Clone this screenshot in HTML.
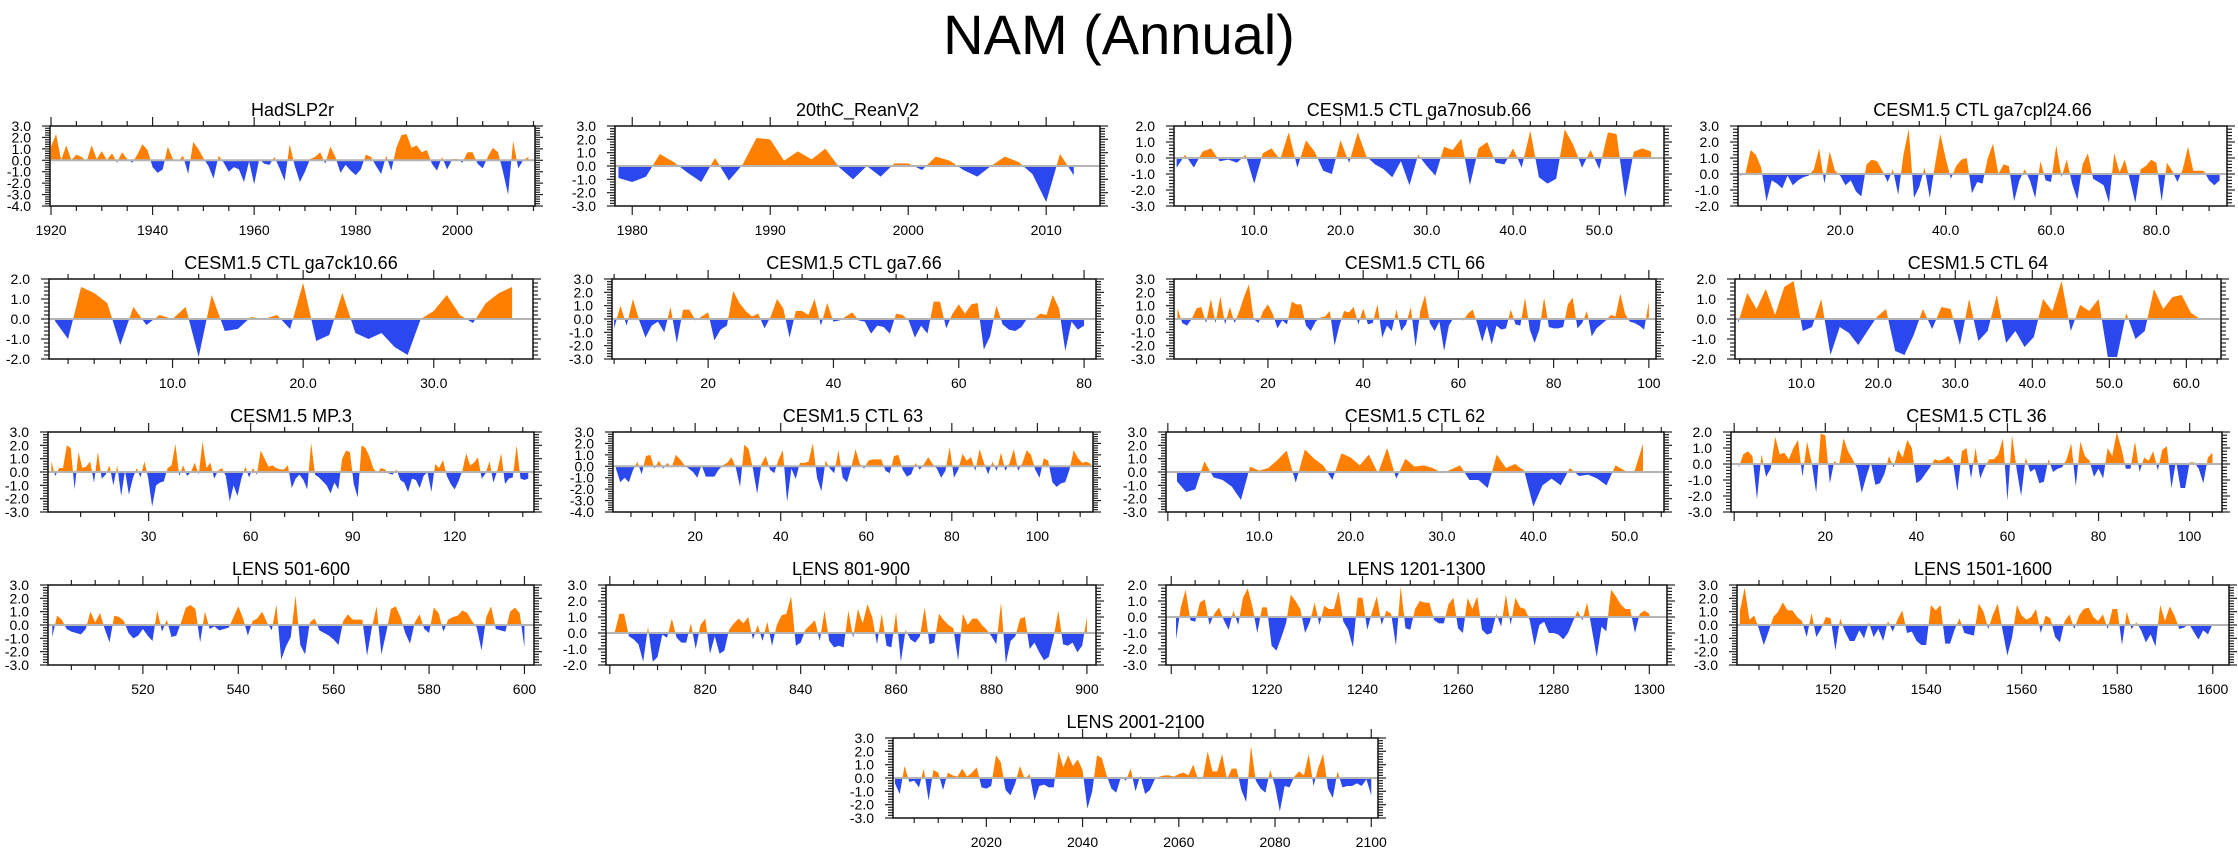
<!DOCTYPE html>
<html>
<head>
<meta charset="utf-8">
<style>
  html, body { margin: 0; padding: 0; background: #fff; }
  svg { display: block; font-family: "Liberation Sans", Arial, sans-serif; }
</style>
</head>
<body>
<svg id="chart" xmlns="http://www.w3.org/2000/svg" width="2238" height="856" viewBox="0 0 2238 856">
  <rect x="0" y="0" width="2238" height="856" fill="#ffffff"></rect>
  <text x="1119" y="54" font-size="56" text-anchor="middle" fill="#000">NAM (Annual)</text>
</svg>
<script>
// ---------- data ----------
const titles = ["HadSLP2r","20thC_ReanV2","CESM1.5 CTL ga7nosub.66","CESM1.5 CTL ga7cpl24.66",
"CESM1.5 CTL ga7ck10.66","CESM1.5 CTL ga7.66","CESM1.5 CTL 66","CESM1.5 CTL 64",
"CESM1.5 MP.3","CESM1.5 CTL 63","CESM1.5 CTL 62","CESM1.5 CTL 36",
"LENS 501-600","LENS 801-900","LENS 1201-1300","LENS 1501-1600","LENS 2001-2100"];

const startX = [1920,1979,1,1,1,5,1,1.8,1.4,1.5,1,1,501,801,1201,1501,2001];
const stepX  = [1,1,1,1,1,1,1,1.2,1.14,1,1,1,1,1,1,1,1];
const xMin = [1919.8,1978.75,0.7,0.6,0.54,4.66,0.27,1.4,0.42,0.8,-0.2,-0.7,500.1,799.2,1198.9,1500.4,2000.6];
const xMax = [2015.3,2013.9,57.5,93.4,37.6,81.9,101.5,64.5,143.3,113,54.3,107.1,602,901.9,1303.7,1603.4,2101.4];
const yMin = [-4,-3,-3,-2,-2,-3,-3,-2,-3,-4,-3,-3,-3,-2,-3,-3,-3];
const yMax = [3,3,2,3,2,3,3,2,3,3,3,2,3,3,2,3,3];
const xMajor = [20,10,10,20,10,20,20,10,30,20,10,20,20,20,20,20,20];
const xMinor = [5,2,2,5,2,5,5,2,10,5,2,5,5,5,5,5,5];
const xDecimals = [0,0,1,1,1,0,0,1,0,0,1,0,0,0,0,0,0];

const vals1 = [1.2,2.3,0.0,1.3,0.0,0.5,0.3,-0.1,1.3,0.1,0.8,0.0,0.6,-0.2,0.7,0.1,-0.2,0.5,1.4,0.9,-0.6,-1.1,-0.8,1.2,0.1,-0.1,0.4,-1.2,1.6,1.0,0.2,-0.5,-1.6,0.4,-0.2,-1.0,-0.6,-0.8,-1.9,-0.1,-2.1,0.1,-0.3,-0.4,0.3,-0.7,-1.8,1.4,-0.5,-1.9,-1.0,0.1,0.3,0.7,-0.3,1.2,0.3,-1.1,-0.4,-0.9,-1.3,-0.8,0.5,0.3,-0.5,-1.2,0.4,-0.9,1.1,2.2,2.3,1.1,1.3,0.7,0.9,-0.3,-0.9,0.3,-0.8,0.1,0.1,-0.2,0.7,0.7,-0.3,-0.7,0.3,1.1,0.7,-1.0,-3.0,1.7,-0.7,0.0,0.3];
const vals2 = [-0.9,-1.2,-0.8,0.9,0.3,-0.5,-1.2,0.6,-1.1,0.1,2.1,2.0,0.4,1.1,0.5,1.3,-0.1,-1.0,0.0,-0.8,0.2,0.2,-0.3,0.7,0.4,-0.3,-0.8,0.0,0.7,0.3,-0.6,-2.7,0.9,-0.7];
const vals3 = [-0.6,0.2,-0.6,0.4,0.6,-0.2,-0.1,-0.3,0.2,-1.6,0.3,0.6,-0.1,1.6,-0.6,1.1,0.4,-0.8,-1.0,1.1,-0.3,1.6,0.1,-0.4,-0.7,-1.2,-0.2,-1.7,0.2,-0.5,-1.1,0.7,0.5,1.2,-1.7,0.6,1.0,-0.3,-0.4,0.6,-0.6,1.7,-1.2,-1.6,-1.3,1.8,0.8,-0.6,0.5,-0.7,1.6,1.5,-2.5,0.4,0.6,0.4];
const vals4 = [-0.1,0.0,1.5,1.2,0.4,-1.7,-0.4,-0.6,-0.9,-0.1,-0.7,-0.4,-0.2,-0.1,0.3,1.6,-0.6,1.4,0.2,-0.1,-0.7,-0.4,-1.1,-1.4,0.6,0.9,0.8,0.2,-0.5,0.3,-1.3,1.2,2.8,-1.5,-0.8,0.4,-1.5,0.6,2.5,1.0,-0.3,0.5,0.9,1.0,-1.2,-0.5,-0.6,1.0,1.9,0.0,0.6,0.5,-1.7,-0.4,0.3,-0.4,-1.5,0.8,-0.4,-0.5,1.8,-0.2,0.9,-0.6,-1.6,0.6,1.3,-0.3,-0.5,-0.7,-1.8,1.3,0.1,0.9,-0.4,-1.8,0.3,0.5,0.9,0.7,-1.7,0.7,0.2,-0.5,0.3,1.7,0.2,0.2,0.2,-0.4,-0.7,-0.4];
const vals5 = [-0.1,-1.0,1.6,1.3,0.8,-1.3,0.6,-0.3,0.2,0.0,0.6,-1.9,1.2,-0.6,-0.5,0.1,0.0,0.2,-0.5,1.8,-1.1,-0.8,1.3,-0.7,-1.0,-0.7,-1.4,-1.8,0.0,0.4,1.2,0.2,-0.2,0.8,1.3,1.6];
const vals6 = [-0.7,1.0,-0.5,1.5,-0.1,-1.4,-0.5,-0.2,-1.0,0.9,-1.8,0.7,0.7,-0.1,0.2,0.5,-1.6,-0.8,-0.5,2.1,1.2,0.6,0.2,0.4,-0.7,0.2,1.5,0.8,-1.4,0.6,0.6,0.3,1.5,-0.5,1.2,-0.2,-0.1,0.2,0.5,-0.1,-0.2,-1.1,-0.5,-0.6,-1.1,0.4,0.3,-0.1,-1.4,-0.5,-1.1,1.3,1.3,-0.7,0.4,1.1,0.4,1.1,1.2,-2.3,-1.3,1.0,-0.4,-0.8,-0.9,-0.6,0.1,0.0,0.4,0.3,1.8,0.8,-2.4,-0.2,-0.8,-0.5];
const vals7 = [0.8,-0.3,-0.5,0.0,0.8,0.9,-0.3,1.5,-0.3,1.7,-0.4,0.9,-0.3,0.6,1.7,2.6,0.0,-0.3,0.6,1.1,0.4,-0.7,-0.1,-0.4,1.3,1.1,1.1,-0.5,-0.9,-0.2,0.1,0.2,0.6,-2.0,-0.5,0.6,0.5,0.9,-0.4,0.8,-0.4,-0.3,1.1,-1.4,-0.5,-0.9,0.7,-0.9,-0.4,0.9,-2.1,0.6,1.8,-0.3,-0.9,-0.2,-2.4,-0.5,0.1,0.0,-0.1,0.4,0.7,-0.4,-1.7,-0.5,-1.9,-0.5,-0.8,-0.7,0.7,-0.4,-0.5,1.6,-0.8,-1.8,-0.8,1.6,-0.6,-0.7,-0.7,-0.6,1.1,1.6,-0.7,-0.3,0.6,-1.3,-0.7,-0.4,-0.1,0.3,0.2,1.9,0.4,-0.2,-0.3,-0.5,-0.8,1.3];
const vals8 = [-0.2,1.3,0.5,1.5,0.2,1.6,1.9,-0.6,-0.4,1.0,-1.8,-0.4,-0.7,-1.3,-0.6,0.1,0.5,-1.6,-1.8,-0.8,0.5,-0.5,0.6,0.5,-1.3,1.0,-1.1,-0.6,1.2,-1.2,-0.6,-1.4,-0.9,1.0,0.4,1.9,-0.6,0.7,0.4,1.0,-1.9,-1.9,0.3,-1.0,-0.6,1.5,0.5,1.1,1.2,0.3,0.0];
const vals9 = [0.8,-0.3,0.3,0.3,2.0,1.8,-1.3,1.5,0.3,0.4,0.8,-0.8,1.5,-0.5,-0.2,0.5,-1.0,0.5,-1.8,0.1,-1.7,-0.5,0.3,-0.4,0.8,-0.5,-2.6,-1.0,-0.8,-0.7,0.3,0.5,2.1,-0.3,0.5,-0.3,0.0,0.7,-0.2,2.3,0.3,0.7,-0.5,0.1,0.3,-0.3,-2.2,-1.0,-1.8,-0.5,0.4,-0.4,0.3,-0.2,1.6,1.0,0.4,0.5,0.3,0.2,0.2,0.5,-1.2,-0.5,-0.2,-0.6,-1.3,2.2,-0.2,-0.4,-0.7,-1.0,-1.6,-0.8,-1.3,1.0,1.6,1.5,-0.9,-1.9,2.0,1.8,1.2,0.3,-0.1,0.3,0.2,-0.1,-0.2,0.2,-0.6,-0.8,-1.5,-0.5,-0.6,-1.2,-0.3,0.0,-1.5,0.6,0.3,0.9,-0.3,-0.9,-1.3,-0.7,0.1,1.4,0.5,0.7,1.1,-0.5,-0.1,0.8,-0.8,0.1,1.4,-0.9,-0.5,-0.4,2.0,-0.5,-0.6,-0.5];
const vals10 = [-0.2,-1.4,-1.0,-1.4,-0.3,0.4,-0.7,0.9,1.0,-0.2,0.5,-0.2,0.3,-0.1,1.0,0.6,0.1,-0.2,-0.5,-1.0,0.1,-0.9,-0.9,-0.9,-0.3,0.1,0.3,0.8,-0.1,-1.8,1.9,1.5,-0.2,-2.4,0.2,0.9,-0.3,-0.6,0.6,1.4,-3.1,-0.2,-1.1,0.3,0.3,0.4,2.0,-1.0,-2.2,0.5,-0.2,-0.6,1.4,-1.0,-1.4,-0.1,1.5,0.2,-0.2,0.5,0.6,0.6,0.6,-0.4,-0.6,0.9,1.0,-0.3,-0.9,-0.7,0.3,-0.3,0.2,0.8,0.2,-0.2,-1.0,-0.4,1.7,-1.0,-0.3,1.1,0.5,0.8,-0.4,1.5,0.3,-0.7,0.4,-0.4,1.2,-0.4,0.3,1.5,-0.4,0.3,1.4,1.0,-0.3,-1.0,0.7,0.5,-1.4,-1.8,-1.5,-1.4,-0.3,1.4,0.7,0.3,0.4,0.2];
const vals11 = [-0.7,-1.5,-1.3,0.8,-0.4,-0.6,-1.1,-2.1,0.4,0.1,0.3,0.9,1.6,-0.8,1.7,1.0,0.5,-0.6,1.4,1.1,0.5,1.3,-0.1,1.8,-0.5,1.0,0.4,0.5,0.3,-0.1,0.2,0.5,-0.6,-0.6,-1.2,1.3,0.3,0.6,0.1,-2.6,-1.0,-0.5,-1.0,0.3,-0.3,-0.2,-0.5,-1.0,0.5,0.1,-0.1,2.1];
const vals12 = [-0.2,0.6,0.8,0.5,-2.2,0.6,-0.8,-0.3,1.7,0.6,0.7,0.3,1.0,1.5,-0.8,1.4,0.1,-1.8,1.9,1.8,-1.2,0.2,-0.1,1.6,0.8,0.3,-0.3,-1.8,-0.8,0.1,-1.3,-1.2,-0.6,0.5,-0.2,0.9,0.4,1.5,1.0,-1.2,-1.0,-0.6,-0.2,0.3,0.2,0.3,0.5,0.2,-1.7,0.8,1.0,-0.9,1.0,-0.9,-0.2,0.3,0.3,0.6,1.6,-2.3,1.8,-0.3,-2.0,0.4,-0.5,-0.3,-1.2,-1.1,0.3,-0.5,-0.3,-0.2,0.3,1.3,-1.4,1.4,0.5,0.2,-0.8,-0.3,-0.9,1.0,0.5,2.0,1.0,-0.3,-0.3,1.4,-0.5,0.4,0.2,0.8,-0.4,0.9,1.1,-1.5,0.2,-1.5,-1.5,0.1,0.1,-0.3,-1.2,0.4,0.7];
const vals13 = [-0.9,0.7,0.4,-0.3,-0.5,-0.6,-0.7,-0.3,1.0,0.2,0.9,-0.3,-1.3,0.7,0.6,0.3,-0.6,-1.0,-0.8,-0.3,-0.8,-1.2,1.1,-0.5,0.4,-0.9,-0.8,0.2,1.3,1.5,1.2,-1.3,1.0,-0.3,-0.1,-0.4,-0.3,-0.2,0.6,1.4,0.5,-0.8,0.3,0.5,1.0,0.2,-0.4,1.5,-2.6,-1.6,-0.9,2.2,-1.5,-2.2,0.2,0.5,-0.4,-0.6,-0.8,-1.1,-1.5,0.3,0.8,0.4,0.4,0.4,-2.3,-0.2,1.4,-2.2,-0.6,1.2,1.4,0.6,-0.6,-1.4,0.2,0.8,-0.3,-0.6,1.3,0.9,-0.5,0.4,0.6,0.7,1.1,0.9,0.3,-0.2,-1.9,0.6,1.4,-0.3,-0.4,-0.5,1.0,1.3,0.9,-1.7];
const vals14 = [0.0,1.2,1.2,-0.2,-0.4,-0.7,-1.8,0.4,-1.8,-1.5,-0.1,-0.3,0.9,-0.3,-0.6,-0.6,0.6,-1.0,0.5,0.9,-1.3,-0.2,-1.3,-1.1,0.2,0.6,0.9,0.6,1.0,-0.4,0.5,-0.5,0.7,-0.8,0.5,1.1,1.2,2.3,-0.8,-0.6,0.2,0.5,0.8,-0.5,1.4,-0.5,-0.9,-0.8,-0.9,1.4,-0.3,1.5,0.6,1.8,1.0,-0.7,1.2,-0.8,-0.9,1.3,-1.8,0.2,-0.4,-0.6,-0.2,1.6,-0.7,-0.6,1.2,0.8,0.5,0.3,-1.7,1.2,0.5,0.9,0.9,0.5,0.2,-0.2,-0.7,1.9,-1.9,-0.5,-0.2,0.9,1.0,-1.0,-0.6,-1.2,-1.7,-1.5,-0.3,1.4,-0.7,-0.8,-0.6,-1.2,-0.8,1.0];
const vals15 = [-1.4,0.6,1.7,-0.2,-0.3,0.9,1.1,-0.5,0.2,0.6,-0.2,-0.8,0.4,-0.5,1.2,1.8,0.6,-1.0,0.6,0.6,-1.8,-2.1,-1.3,-0.4,1.4,1.0,0.5,-1.0,-0.3,0.9,-0.5,0.7,0.5,0.5,1.6,-0.3,-0.8,-1.9,1.2,1.2,-0.8,0.3,1.3,-0.5,0.4,0.2,-1.8,1.9,-0.7,-0.8,0.5,1.0,0.9,0.9,-0.2,-0.4,-0.4,0.8,1.2,-0.7,-1.0,1.2,0.5,1.3,-0.8,-1.1,-1.0,0.2,-0.6,1.4,-0.5,1.2,0.6,0.5,-0.2,-1.8,-0.5,-0.3,-1.0,-1.0,-1.1,-1.4,-1.0,-0.3,0.4,-0.2,0.9,-0.8,-2.5,-0.6,-0.9,1.7,1.3,0.8,0.5,0.5,-1.0,0.2,0.4,0.2];
const vals16 = [1.0,2.8,0.4,0.7,-0.3,-1.5,-0.5,0.6,1.0,1.7,1.1,1.1,0.6,0.3,-0.9,0.9,-0.9,-0.3,0.6,0.5,-1.9,0.5,-0.5,-1.2,-1.2,-0.4,-1.0,0.2,-0.9,-0.3,-1.2,0.3,-0.5,0.4,1.1,-0.6,-0.5,-1.2,-1.5,-1.5,1.5,1.1,1.5,-1.4,-1.4,-0.3,0.5,-0.6,-0.7,-0.8,1.6,1.0,-0.3,0.8,1.6,-0.4,-2.3,-0.9,1.5,0.7,0.4,0.6,1.2,-0.6,0.7,0.5,-0.9,-1.3,0.3,0.8,-0.3,0.7,1.2,1.3,0.6,0.3,0.8,-0.3,1.2,1.2,-1.5,1.0,-0.3,0.2,-0.4,-1.3,-0.7,-1.6,1.5,0.3,1.4,0.7,-0.3,-0.2,0.1,-0.5,-1.1,-0.4,-0.7,0.1];
const vals17 = [-0.4,-1.2,0.9,-0.3,-0.2,-0.7,0.7,-1.7,0.6,0.4,-0.9,0.4,0.2,0.1,0.7,0.1,0.4,0.8,-0.7,-0.8,-0.6,1.7,1.2,-0.9,-1.3,-0.4,0.9,-0.1,0.3,-1.7,-0.6,-0.5,-0.7,-0.7,2.0,0.8,1.7,0.9,1.4,0.6,-2.3,-1.0,1.7,1.5,0.2,-0.8,-1.1,0.1,-0.2,0.7,-1.0,0.2,-1.2,-0.9,-0.1,0.1,0.2,0.2,0.1,0.3,0.4,0.2,1.0,-0.1,0.0,2.0,0.5,0.5,1.8,-0.1,0.7,0.7,-0.9,-1.8,2.4,-0.2,-0.8,-1.1,0.6,-0.6,-2.5,-0.6,-0.7,0.1,0.5,0.2,1.8,-0.6,0.8,1.8,-0.8,-1.5,0.5,-0.7,-0.6,-0.6,-0.4,-0.6,-0.1,-1.3];

const seriesValues = [vals1,vals2,vals3,vals4,vals5,vals6,vals7,vals8,vals9,vals10,vals11,vals12,vals13,vals14,vals15,vals16,vals17];

// ---------- layout (pixel frames, not data) ----------
const frameLayout = [
  [50,126,535],[615,126,1100],[1174,126,1664],[1738,126,2227],
  [49,279,533],[612,279,1096],[1174,279,1656],[1735,279,2221],
  [48,432,534],[613,432,1093],[1166,432,1664],[1731,432,2222],
  [48,585,534],[606,585,1096],[1166,585,1667],[1737,585,2229],
  [893,738,1378]
];
const FRAME_H = 80;
const ORANGE = '#ff8000';
const BLUE = '#2b47ee';

const svg = document.getElementById('chart');
const NS = 'http://www.w3.org/2000/svg';
function mk(tag, attrs, parent) {
  const e = document.createElementNS(NS, tag);
  for (const k in attrs) e.setAttribute(k, attrs[k]);
  (parent || svg).appendChild(e);
  return e;
}
const defs = mk('defs', {});

function slug(s) { return s.toLowerCase().replace(/[^a-z0-9]+/g, '-').replace(/^-|-$/g, ''); }

function drawPanel(i) {
  const L = frameLayout[i][0], T = frameLayout[i][1], R = frameLayout[i][2], B = T + FRAME_H;
  const x0 = xMin[i], x1 = xMax[i], y0 = yMin[i], y1 = yMax[i];
  const sx = v => L + (v - x0) / (x1 - x0) * (R - L);
  const sy = v => T + (y1 - v) / (y1 - y0) * (B - T);
  const name = slug(titles[i]);

  const g = mk('g', {});
  
  

  const t = mk('text', {x: (L + R) / 2, y: T - 10, 'font-size': 18, 'text-anchor': 'middle', fill: '#000'}, g);
  t.textContent = titles[i];
  
  

  const cpA = mk('clipPath', {id: 'ca' + i}, defs);
  mk('rect', {x: L, y: T, width: R - L, height: sy(0) - T}, cpA);
  const cpB = mk('clipPath', {id: 'cb' + i}, defs);
  mk('rect', {x: L, y: sy(0), width: R - L, height: B - sy(0)}, cpB);

  const vals = seriesValues[i];
  const xs = vals.map((v, k) => startX[i] + k * stepX[i]);
  let d = 'M' + sx(xs[0]).toFixed(2) + ',' + sy(0).toFixed(2);
  vals.forEach((v, k) => { d += ' L' + sx(xs[k]).toFixed(2) + ',' + sy(v).toFixed(2); });
  d += ' L' + sx(xs[xs.length - 1]).toFixed(2) + ',' + sy(0).toFixed(2) + ' Z';

  const pos = mk('path', {d: d, fill: ORANGE, 'clip-path': 'url(#ca' + i + ')'}, g);
  
  
  const neg = mk('path', {d: d, fill: BLUE, 'clip-path': 'url(#cb' + i + ')'}, g);
  
  

  const z = mk('line', {x1: L, x2: R, y1: sy(0), y2: sy(0), stroke: '#b4b4b4', 'stroke-width': 2}, g);
  
  

  const yt = mk('g', {stroke: '#222', 'stroke-width': 1.2}, g);
  
  
  const nY = Math.round((y1 - y0) * 5);
  for (let k = 0; k <= nY; k++) {
    const v = y0 + k * 0.2;
    const major = (k % 5 === 0);
    const len = major ? 8 : 5;
    const yy = sy(v);
    mk('line', {x1: L - len, x2: L, y1: yy, y2: yy}, yt);
    mk('line', {x1: R, x2: R + len, y1: yy, y2: yy}, yt);
    if (major) {
      const lab = mk('text', {x: L - 19, y: yy + 5, 'font-size': 14, 'text-anchor': 'end', fill: '#000', stroke: 'none'}, g);
      lab.textContent = v.toFixed(1);
      
      
    }
  }

  const xt = mk('g', {stroke: '#222', 'stroke-width': 1.2}, g);
  
  
  const mn = xMinor[i], mj = xMajor[i];
  for (let v = Math.ceil(x0 / mn) * mn; v <= x1 + 1e-9; v += mn) {
    const major = Math.abs(v / mj - Math.round(v / mj)) < 1e-6;
    const len = major ? 9 : 5;
    const xx = sx(v);
    mk('line', {x1: xx, x2: xx, y1: T - len, y2: T}, xt);
    mk('line', {x1: xx, x2: xx, y1: B, y2: B + len}, xt);
    if (major && v >= startX[i] - 0.5) {
      const lab = mk('text', {x: xx, y: B + 29, 'font-size': 14, 'text-anchor': 'middle', fill: '#000', stroke: 'none'}, g);
      lab.textContent = v.toFixed(xDecimals[i]);
      
      
    }
  }

  const fr = mk('rect', {x: L, y: T, width: R - L, height: B - T, fill: 'none', stroke: '#111', 'stroke-width': 1.5}, g);
  
  
}

for (let i = 0; i < titles.length; i++) drawPanel(i);
</script>
</body>
</html>
